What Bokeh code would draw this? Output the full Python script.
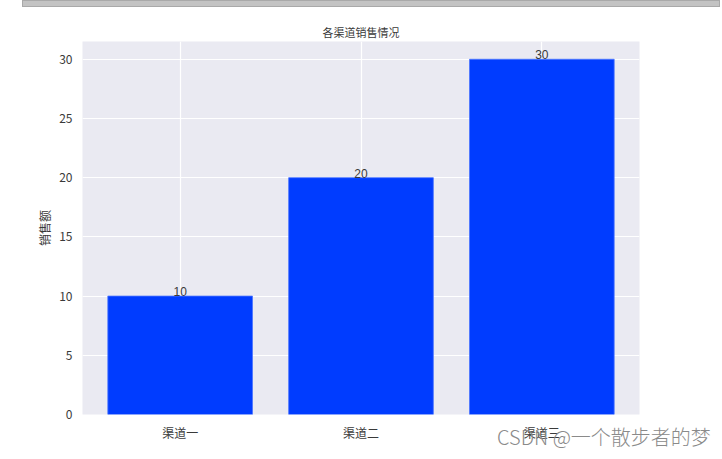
from bokeh.plotting import figure
from bokeh.models import ColumnDataSource, FixedTicker, Range1d, Div
from bokeh.layouts import column
from bokeh.embed import file_html
from bokeh.resources import INLINE

channels = ['渠道一', '渠道二', '渠道三']
sales = [10, 20, 30]
y_ticks = [0, 5, 10, 15, 20, 25, 30]

cjk = "Noto Sans CJK SC"
txt = "#3a3a3a"

xs = list(range(len(channels)))
src = ColumnDataSource(data=dict(x=xs, y=sales, lab=[str(v) for v in sales]))

p = figure(width=722, height=451, output_backend="svg", toolbar_location=None,
           x_range=Range1d(-0.54, 2.54), y_range=Range1d(0, 31.5),
           min_border_left=82, min_border_right=83, min_border_top=33, min_border_bottom=45,
           title="各渠道销售情况")

p.background_fill_color = "#EAEAF2"
p.border_fill_color = "white"
p.outline_line_color = None

p.title.align = "center"
p.title.text_font = cjk
p.title.text_font_size = "11px"
p.title.text_font_style = "normal"
p.title.text_color = txt
p.title.standoff = 4

p.grid.grid_line_color = "white"
p.grid.grid_line_width = 1.2

p.vbar(x='x', top='y', width=0.8, source=src, fill_color="#003cff", line_color="#4a74ff", line_width=0.8)
p.text(x='x', y='y', text='lab', source=src, text_align="center", text_baseline="bottom",
       text_font_size="12px", text_color=txt)

p.xaxis.ticker = FixedTicker(ticks=xs)
p.xaxis.major_label_overrides = {i: c for i, c in enumerate(channels)}
p.yaxis.ticker = FixedTicker(ticks=y_ticks)
p.yaxis.axis_label = "销售额"

for ax in (p.xaxis, p.yaxis):
    ax.axis_line_color = None
    ax.major_tick_line_color = None
    ax.minor_tick_line_color = None
    ax.major_label_text_font = cjk
    ax.major_label_text_font_size = "12px"
    ax.major_label_text_color = txt
p.xaxis.major_label_standoff = 3
p.yaxis.major_label_standoff = 4

p.yaxis.axis_label_text_font = cjk
p.yaxis.axis_label_text_font_size = "12px"
p.yaxis.axis_label_text_font_style = "normal"
p.yaxis.axis_label_text_color = txt
p.yaxis.axis_label_standoff = 3

# grey strip at the top of the screenshot
strip = Div(text="", width=698, height=7, margin=(0, 0, 1, 22),
            styles={"background-color": "#c3c3c3", "border": "1px solid #a9a9a9", "box-sizing": "border-box"})

# watermark overlapping the lower right corner
mark = Div(text="CSDN @一个散步者的梦", width=222, height=36, margin=(-36, 0, 0, 497),
           styles={"font-family": cjk, "font-size": "20px", "font-weight": "300",
                   "color": "#8a8a8a", "white-space": "nowrap"})

page = column(strip, p, mark, spacing=0)

open("out.html", "w").write(file_html(page, INLINE))
